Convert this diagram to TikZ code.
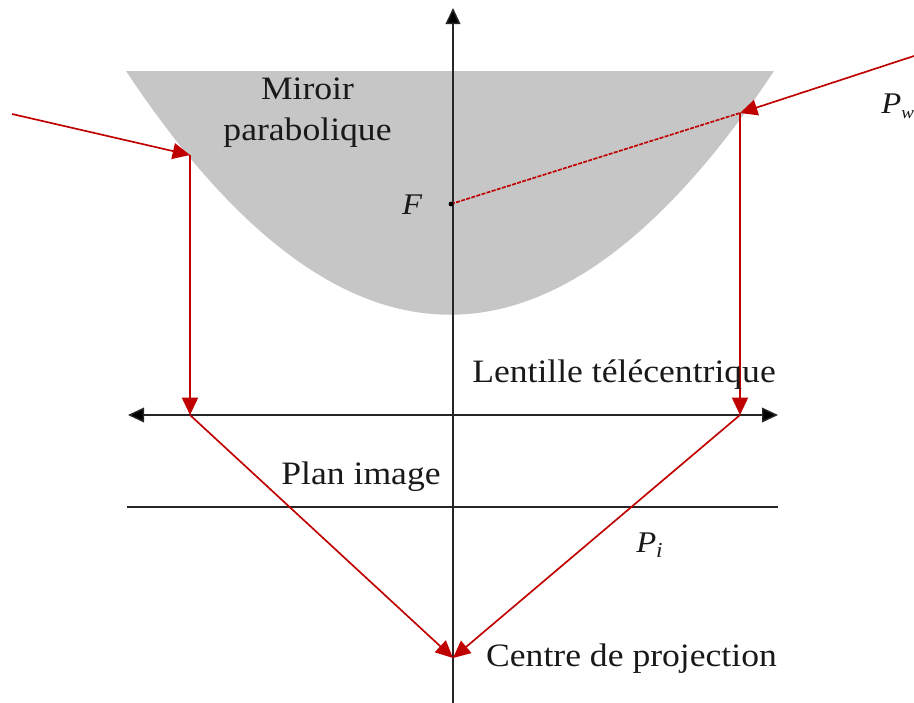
\documentclass[tikz,border=0pt]{standalone}
\usepackage{fontspec}
\setmainfont[FakeStretch=1.09]{Liberation Serif}
\usetikzlibrary{arrows.meta}
\definecolor{rayred}{RGB}{192,0,0}
\definecolor{mirror}{RGB}{198,198,198}
\tikzset{
  axis/.style={draw=black!85,line width=1.1pt},
  axisarrow/.style={axis,-{Triangle[length=12pt,width=11pt,fill=black]}},
  axisboth/.style={axis,{Triangle[length=12pt,width=11pt,fill=black]}-{Triangle[length=12pt,width=11pt,fill=black]}},
  ray/.style={draw=rayred,line width=1.25pt},
  rayarrow/.style={ray,-{Triangle[length=13pt,width=12pt,fill=rayred]}},
  raydash/.style={ray,dash pattern=on 3pt off 1pt},
  lbl/.style={inner sep=0pt,font=\fontsize{24.5pt}{26pt}\selectfont,text=black!90},
  math/.style={inner sep=0pt,font=\fontsize{22.5pt}{26pt}\selectfont\itshape,text=black!90},
}
\begin{document}
\begin{tikzpicture}[x=0.75pt,y=-0.75pt]
\useasboundingbox (0,0) rectangle (914,703);
% mirror
\fill[mirror] (126,71) .. controls (342,396) and (558,396) .. (774,71) -- cycle;
% named points
\coordinate (axisTop) at (453,8);
\coordinate (axisBot) at (453,703);
\coordinate (lensL) at (128,415);
\coordinate (lensR) at (778,415);
\coordinate (planL) at (127,507);
\coordinate (planR) at (778,507);
\coordinate (focus) at (451,204);
\coordinate (hitL) at (190,155);
\coordinate (hitR) at (740,113);
\coordinate (srcL) at (12,114);
\coordinate (srcR) at (914,56);
\coordinate (lensHitL) at (190,415);
\coordinate (lensHitR) at (740,415);
\coordinate (centre) at (453,658);
% axes
\draw[axisarrow] (axisBot) -- (axisTop);
\draw[axisboth] (lensL) -- (lensR);
\draw[axis] (planL) -- (planR);
% rays
\draw[rayarrow] (srcL) -- (hitL);
\draw[rayarrow] (hitL) -- (lensHitL);
\draw[rayarrow] (srcR) -- (hitR);
\draw[rayarrow] (hitR) -- (lensHitR);
\draw[raydash] (focus) -- (hitR);
\draw[rayarrow] (lensHitL) -- (centre);
\draw[rayarrow] (lensHitR) -- (centre);
\fill[black] (focus) circle (1.8pt);
% labels
\node[lbl,anchor=base] (miroir) at (307.5,99) {Miroir};
\node[lbl,anchor=base] (parab) at (307.5,140) {parabolique};
\node[math,anchor=base] (F) at (412,214) {F};
\node[lbl,anchor=base] (lent) at (624,382) {Lentille télécentrique};
\node[lbl,anchor=base] (plan) at (361,484) {Plan image};
\node[lbl,anchor=base] (centrelbl) at (631.5,666) {Centre de projection};
\node[math,anchor=base west] (Pi) at (636,552) {P\raisebox{-4pt}{\fontsize{16pt}{18pt}\selectfont i}};
\node[math,anchor=base west] (Pw) at (881,113) {P\raisebox{-4pt}{\fontsize{13pt}{15pt}\selectfont w}};
\end{tikzpicture}
\end{document}
